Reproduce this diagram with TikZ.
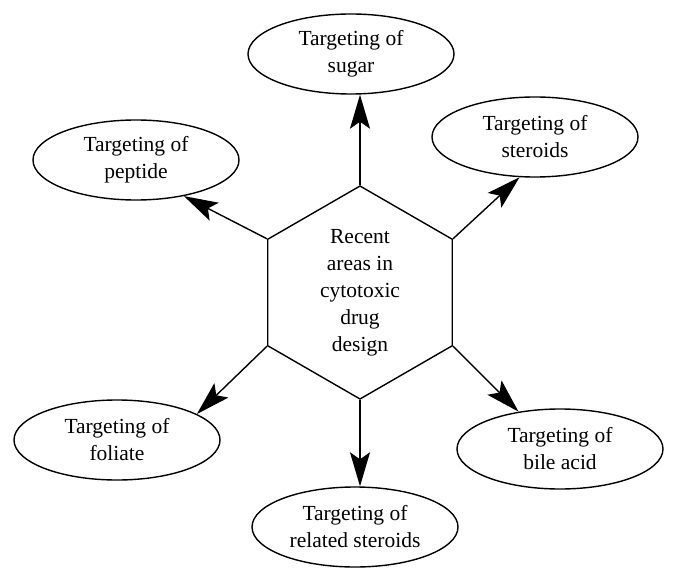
\documentclass[tikz,border=0pt]{standalone}
\usepackage{fontspec}
\setmainfont{Liberation Serif}
\usetikzlibrary{shapes.geometric,arrows.meta}

\begin{document}
\begin{tikzpicture}[x=1pt,y=1pt,
  font=\fontsize{21.5}{27}\selectfont,
  hub/.style={draw,line width=1.4pt,regular polygon,regular polygon sides=6,
              shape border rotate=30,minimum size=213pt,inner sep=0pt,
              align=center},
  leaf/.style={draw,line width=1.4pt,ellipse,minimum width=206pt,
               minimum height=80pt,inner sep=0pt,align=center},
  ar/.style={-{Stealth[length=34pt,width=20pt,inset=7pt]},line width=1.4pt}]
  \useasboundingbox (0,0) rectangle (677,582);

  \node[hub] (hex) at (360,289.5) {Recent\\areas in\\cytotoxic\\drug\\design};

  \node[leaf] (sugar)    at (351,528) {Targeting of\\sugar};
  \node[leaf] (steroids) at (535,445) {Targeting of\\steroids};
  \node[leaf] (peptide)  at (136,422) {Targeting of\\peptide};
  \node[leaf] (foliate)  at (117,142) {Targeting of\\foliate};
  \node[leaf] (bile)     at (560,133) {Targeting of\\bile acid};
  \node[leaf] (related)  at (355,55)  {Targeting of\\related steroids};

  \draw[ar] (hex.90)  -- (hex.90 |- sugar.south);
  \draw[ar] (hex.270) -- (hex.270 |- related.north);
  \foreach \c/\t in {150/peptide.-37,30/steroids.-111,210/foliate.18,330/bile.138}
    \draw[ar] (hex.\c) -- (\t);
\end{tikzpicture}
\end{document}
